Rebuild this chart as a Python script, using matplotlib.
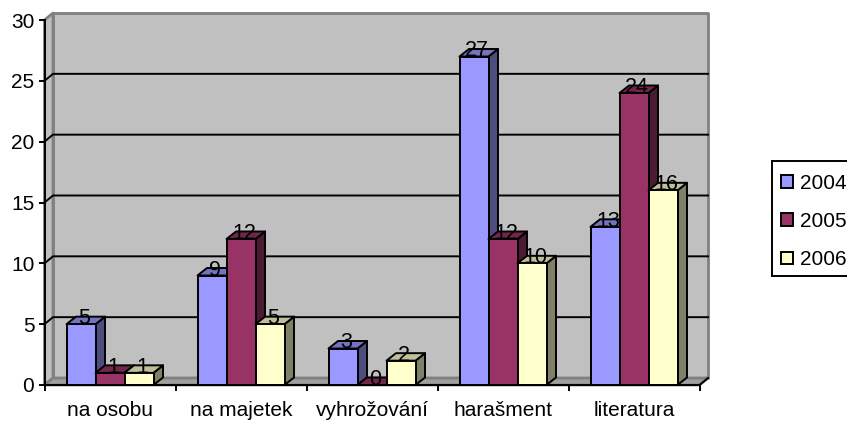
import matplotlib
matplotlib.use('agg')
from matplotlib import pyplot as plt
from matplotlib.patches import Polygon, Patch, Rectangle
import numpy as np

categories = ['na osobu', 'na majetek', 'vyhrožování', 'harašment', 'literatura']
years = ['2004', '2005', '2006']
v2004 = [5, 9, 3, 27, 13]
v2005 = [1, 12, 0, 12, 24]
v2006 = [1, 5, 2, 10, 16]
yticks = [0, 5, 10, 15, 20, 25, 30]

front_cols = ['#9999FF', '#993366', '#FFFFCC']
top_cols = ['#7373BF', '#73264D', '#BFBF99']
side_cols = ['#4D4D80', '#4D1A33', '#808066']

W, H = 847, 421
plt.rcParams['font.family'] = ['Liberation Sans', 'DejaVu Sans']
plt.rcParams['font.size'] = 15

fig = plt.figure(figsize=(W / 100, H / 100), dpi=100)
# plot box of the front plane, in pixels
left, right, bottom, top = 44.5, 699.5, 385.0, 20.0
ax = fig.add_axes([left / W, 1 - bottom / H, (right - left) / W, (bottom - top) / H])
ax.set_xlim(0, 5)
ax.set_ylim(0, 30)
ax.patch.set_visible(False)

# depth of the fake 3d, in data units
px_x = 5 / (right - left)
px_y = 30 / (bottom - top)
dx = 8.5 * px_x
dy = 7 * px_y

def poly(pts, fc, ec, lw=1.4, z=1):
    ax.add_patch(Polygon(pts, closed=True, fc=fc, ec=ec, lw=lw, zorder=z, clip_on=False, joinstyle='round'))

# walls and floor
poly([(dx, dy), (5 + dx, dy), (5 + dx, 30 + dy), (dx, 30 + dy)], '#C0C0C0', '#808080', 2, 1)
poly([(0, 0), (dx, dy), (dx, 30 + dy), (0, 30)], '#C0C0C0', '#808080', 2, 1)
poly([(0, 0), (5, 0), (5 + dx, dy), (dx, dy)], '#A0A0A0', '#808080', 2, 1)

# gridlines on the walls
for t in yticks[1:-1]:
    ax.plot([0, dx, 5 + dx], [t, t + dy, t + dy], color='black', lw=1.4, zorder=2, clip_on=False)
ax.plot([5, 5 + dx], [0, dy], color='black', lw=1.4, zorder=2, clip_on=False)

# bars
bw = 29 * px_x
bdx = 9.5 * px_x
bdy = 7.5 * px_y
series = [v2004, v2005, v2006]
z = 3
for i in range(len(categories)):
    for j in range(3):
        v = series[j][i]
        x0 = i + 0.5 + (j - 1.5) * bw
        x1 = x0 + bw
        poly([(x1, 0), (x1 + bdx, bdy), (x1 + bdx, v + bdy), (x1, v)], side_cols[j], 'black', 1.4, z)
        poly([(x0, v), (x1, v), (x1 + bdx, v + bdy), (x0 + bdx, v + bdy)], top_cols[j], 'black', 1.4, z)
        if v > 0:
            ax.bar(x0, v, bw, align='edge', color=front_cols[j], edgecolor='black', linewidth=1.4, zorder=z, clip_on=False)
        z += 1

for i in range(len(categories)):
    for j in range(3):
        v = series[j][i]
        x = i + 0.5 + (j - 1) * bw
        ax.annotate(str(v), (x, v), xytext=(3, 0), textcoords='offset pixels', ha='center', va='baseline',
                    color='black', fontsize=15.5, zorder=50, annotation_clip=False)

# axes
for s in ['top', 'right']:
    ax.spines[s].set_visible(False)
for s in ['left', 'bottom']:
    ax.spines[s].set_linewidth(1.4)
    ax.spines[s].set_zorder(40)
ax.set_yticks(yticks)
ax.set_xticks(np.arange(0, 6))
ax.set_xticklabels([])
ax.set_xticks(np.arange(len(categories)) + 0.5, minor=True)
ax.set_xticklabels(categories, minor=True)
ax.tick_params(axis='both', which='major', length=4.3, width=1.4, pad=3)
ax.tick_params(axis='x', which='minor', length=0, pad=11.5)

# legend, frame drawn apart since it runs off the right edge
fig.add_artist(Rectangle((772 / W, 1 - 276 / H), 90 / W, 115 / H, transform=fig.transFigure,
                         fc='white', ec='black', lw=1.4))
handles = [Patch(fc=c, ec='black', lw=1.4) for c in front_cols]
leg = fig.legend(handles, years, loc='upper left', bbox_to_anchor=(781 / W, 1 - 174 / H),
                 bbox_transform=fig.transFigure, frameon=False, borderpad=0, labelspacing=0.92,
                 handlelength=0.58, handleheight=0.58, handletextpad=0.34, borderaxespad=0)

fig.savefig('out.png', dpi=100)
plt.close()
